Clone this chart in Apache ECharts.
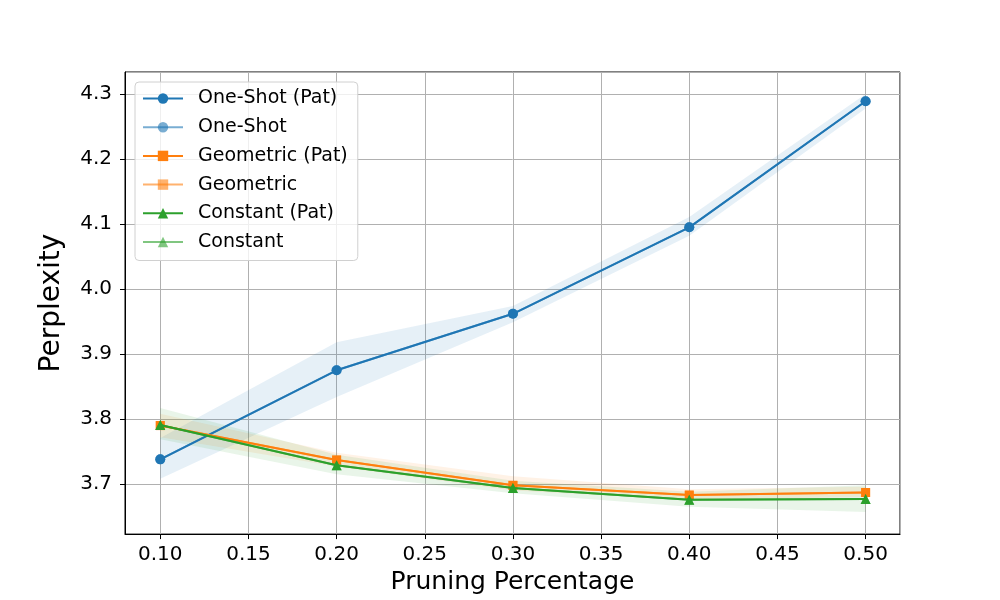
<!DOCTYPE html>
<html>
<head>
<meta charset="utf-8">
<script src="https://cdn.jsdelivr.net/npm/echarts@6/dist/echarts.min.js"></script>
<style>
  html, body { margin: 0; padding: 0; background: #fff; }
  #chart { width: 1000px; height: 600px; }
</style>
</head>
<body>
<div id="chart"></div>
<script>
// pruning percentages (x)
const pct = [0.1, 0.2, 0.3, 0.4, 0.5]

// mean perplexity per schedule
const oneShotPat = [3.738, 3.875, 3.962, 4.095, 4.289]
const oneShot = [3.738, 3.875, 3.962, 4.095, 4.289]
const geometricPat = [3.790, 3.737, 3.698, 3.683, 3.687]
const geometric = [3.790, 3.737, 3.698, 3.683, 3.687]
const constantPat = [3.791, 3.729, 3.694, 3.676, 3.677]
const constant = [3.791, 3.729, 3.694, 3.676, 3.677]

// shaded bands (lower / upper)
const oneShotLo = [3.708, 3.834, 3.949, 4.082, 4.278]
const oneShotHi = [3.771, 3.918, 3.974, 4.111, 4.300]
const geometricLo = [3.772, 3.727, 3.690, 3.676, 3.680]
const geometricHi = [3.808, 3.748, 3.712, 3.692, 3.696]
const constantLo = [3.769, 3.715, 3.686, 3.665, 3.657]
const constantHi = [3.817, 3.745, 3.705, 3.688, 3.698]

const BLUE = '#1f77b4'
const ORANGE = '#ff7f0e'
const GREEN = '#2ca02c'
const FONT = 'DejaVu Sans'

function band(name, color, lo, hi, alpha) {
  return {
    name: name,
    type: 'custom',
    silent: true,
    clip: true,
    z: 1,
    data: pct.map((x, i) => [x, lo[i], hi[i]]),
    renderItem: function (params, api) {
      if (params.dataIndex !== 0) return null
      const pts = []
      for (let i = 0; i < pct.length; i++) pts.push(api.coord([pct[i], hi[i]]))
      for (let i = pct.length - 1; i >= 0; i--) pts.push(api.coord([pct[i], lo[i]]))
      return {
        type: 'polygon',
        shape: { points: pts },
        style: { fill: color, opacity: alpha }
      }
    }
  }
}

function line(name, color, values, symbol, size, alpha, z) {
  return {
    name: name,
    type: 'line',
    data: pct.map((x, i) => [x, values[i]]),
    symbol: symbol,
    symbolSize: size,
    showSymbol: true,
    z: z,
    lineStyle: { color: color, width: 2, opacity: alpha },
    itemStyle: { color: color, opacity: alpha },
    emphasis: { disabled: true },
    animation: false
  }
}

const chart = echarts.init(document.getElementById('chart'))

chart.setOption({
  animation: false,
  textStyle: { fontFamily: FONT },
  grid: {
    left: 125,
    right: 100,
    top: 72,
    bottom: 65,
    show: true,
    borderColor: '#000',
    borderWidth: 1
  },
  legend: {
    orient: 'vertical',
    left: 135,
    top: 82,
    padding: [7, 10, 9, 7],
    itemWidth: 40,
    itemHeight: 13,
    itemGap: 9.7,
    backgroundColor: 'rgba(255,255,255,0.8)',
    borderColor: '#d0d0d0',
    borderWidth: 1,
    borderRadius: 4,
    textStyle: { fontFamily: FONT, fontSize: 19, color: '#000', lineHeight: 19, padding: [0, 0, 0, 10] },
    data: ['One-Shot (Pat)', 'One-Shot', 'Geometric (Pat)', 'Geometric', 'Constant (Pat)', 'Constant']
  },
  xAxis: {
    type: 'value',
    min: 0.08,
    max: 0.5195,
    splitNumber: 9,
    name: 'Pruning Percentage',
    nameLocation: 'middle',
    nameGap: 34,
    nameTextStyle: { fontFamily: FONT, fontSize: 25, color: '#000' },
    axisLine: { lineStyle: { color: '#000', width: 1 } },
    axisTick: { show: true, length: 5, lineStyle: { color: '#000' } },
    axisLabel: {
      fontFamily: FONT, fontSize: 20, color: '#000', margin: 11,
      showMinLabel: false, showMaxLabel: false,
      formatter: v => v.toFixed(2)
    },
    splitLine: { show: true, lineStyle: { color: '#b0b0b0', width: 1 } }
  },
  yAxis: {
    type: 'value',
    min: 3.623,
    max: 4.334,
    splitNumber: 7,
    name: 'Perplexity',
    nameLocation: 'middle',
    nameGap: 59,
    nameTextStyle: { fontFamily: FONT, fontSize: 28, color: '#000' },
    axisLine: { show: true, lineStyle: { color: '#000', width: 1 } },
    axisTick: { show: true, length: 5, lineStyle: { color: '#000' } },
    axisLabel: {
      fontFamily: FONT, fontSize: 20, color: '#000', margin: 13,
      showMinLabel: false, showMaxLabel: false,
      formatter: v => v.toFixed(1)
    },
    splitLine: { show: true, lineStyle: { color: '#b0b0b0', width: 1 } }
  },
  series: [
    band('One-Shot band', BLUE, oneShotLo, oneShotHi, 0.11),
    band('Geometric band', ORANGE, geometricLo, geometricHi, 0.1),
    band('Constant band', GREEN, constantLo, constantHi, 0.1),
    line('One-Shot (Pat)', BLUE, oneShotPat, 'circle', 10, 1, 3),
    line('One-Shot', BLUE, oneShot, 'circle', 10, 0.6, 4),
    line('Geometric (Pat)', ORANGE, geometricPat, 'rect', 9, 1, 5),
    line('Geometric', ORANGE, geometric, 'rect', 9, 0.6, 6),
    line('Constant (Pat)', GREEN, constantPat, 'triangle', 10, 1, 7),
    line('Constant', GREEN, constant, 'triangle', 10, 0.6, 8)
  ]
})
</script>
</body>
</html>
